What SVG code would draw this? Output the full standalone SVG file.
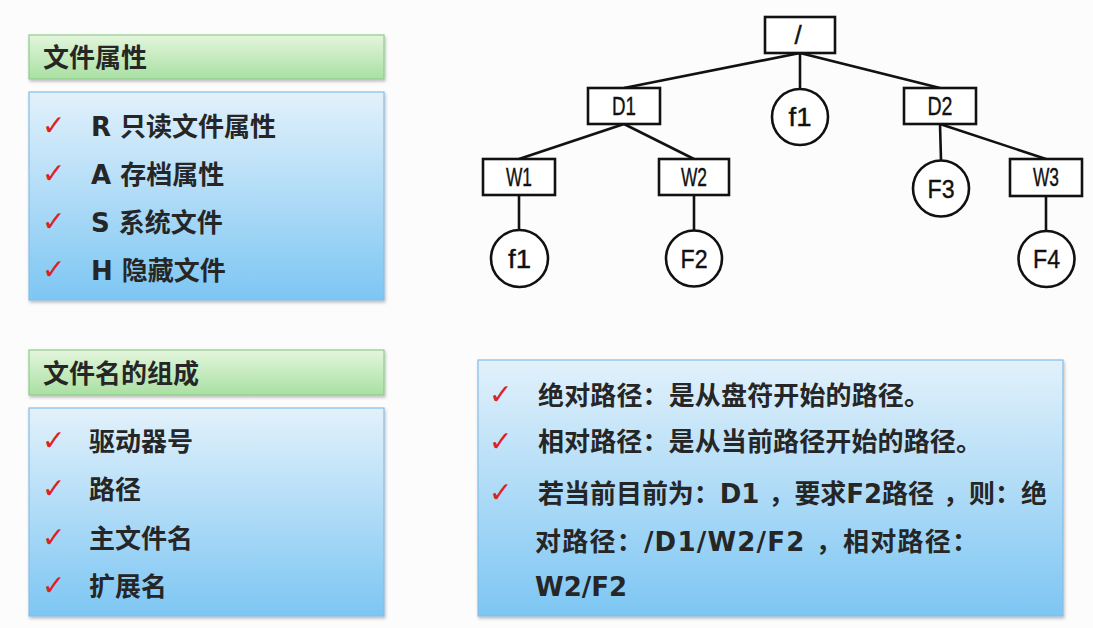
<svg xmlns="http://www.w3.org/2000/svg" width="1093" height="628" viewBox="0 0 1093 628">
<defs>
<linearGradient id="gGreen" x1="0" y1="0" x2="0" y2="1">
<stop offset="0" stop-color="#e3f6dc"/>
<stop offset="1" stop-color="#a9e0a2"/>
</linearGradient>
<linearGradient id="gBlue" x1="0" y1="0" x2="0" y2="1">
<stop offset="0" stop-color="#e2f1fb"/>
<stop offset="1" stop-color="#7dc6f3"/>
</linearGradient>
<filter id="sh" x="-5%" y="-5%" width="110%" height="115%">
<feDropShadow dx="1" dy="2" stdDeviation="1.5" flood-color="#000" flood-opacity="0.25"/>
</filter>
</defs>
<style>
.hdr{fill:url(#gGreen);stroke:#8fcc8a;stroke-width:1.2;filter:url(#sh)}
.body{fill:url(#gBlue);stroke:#86bde6;stroke-width:1.2;filter:url(#sh)}
.t{font-family:"DejaVu Sans","Noto Sans CJK SC",sans-serif;font-weight:bold;font-size:26px;fill:#262626}
.ck{font-family:"DejaVu Sans",sans-serif;font-size:28px;fill:#dc2222}
.box{fill:#fff;stroke:#111;stroke-width:2.6}
.lbl{font-family:"Liberation Sans",sans-serif;font-size:26px;fill:#111;stroke:#111;stroke-width:0.4;text-anchor:middle}
.edge{stroke:#111;stroke-width:2.6;fill:none}
</style>
<rect width="1093" height="628" fill="#fcfcfc"/>

<g id="attr-header">
<rect class="hdr" x="29" y="35" width="355" height="44"/>
<text class="t" x="43" y="67">文件属性</text>
</g>
<g id="attr-list">
<rect class="body" x="29" y="92" width="355" height="208"/>
<text class="ck" x="42" y="135">✓</text>
<text class="t" x="91" y="136">R 只读文件属性</text>
<text class="ck" x="42" y="183">✓</text>
<text class="t" x="91" y="184">A 存档属性</text>
<text class="ck" x="42" y="231">✓</text>
<text class="t" x="91" y="232">S 系统文件</text>
<text class="ck" x="42" y="279">✓</text>
<text class="t" x="91" y="280">H 隐藏文件</text>
</g>

<g id="name-header">
<rect class="hdr" x="29" y="350" width="355" height="45"/>
<text class="t" x="43" y="383">文件名的组成</text>
</g>
<g id="name-list">
<rect class="body" x="29" y="408" width="355" height="208"/>
<text class="ck" x="42" y="450">✓</text>
<text class="t" x="89" y="451">驱动器号</text>
<text class="ck" x="42" y="498">✓</text>
<text class="t" x="89" y="499">路径</text>
<text class="ck" x="42" y="547">✓</text>
<text class="t" x="89" y="548">主文件名</text>
<text class="ck" x="42" y="595">✓</text>
<text class="t" x="89" y="596">扩展名</text>
</g>

<g id="path-notes">
<rect class="body" x="478" y="360" width="585" height="256"/>
<text class="ck" x="489" y="404">✓</text>
<text class="t" x="538" y="405" textLength="392" lengthAdjust="spacing">绝对路径：是从盘符开始的路径。</text>
<text class="ck" x="489" y="451">✓</text>
<text class="t" x="538" y="451" textLength="444" lengthAdjust="spacing">相对路径：是从当前路径开始的路径。</text>
<text class="ck" x="489" y="502">✓</text>
<text class="t" x="538" y="503" textLength="509" lengthAdjust="spacing">若当前目前为：D1 ，要求F2路径 ，则：绝</text>
<text class="t" x="535" y="551" textLength="443" lengthAdjust="spacing">对路径：/D1/W2/F2 ，相对路径：</text>
<text class="t" x="535" y="596">W2/F2</text>
</g>

<g id="connectors">
<line class="edge" x1="800" y1="53" x2="624" y2="88"/>
<line class="edge" x1="800" y1="53" x2="800" y2="88"/>
<line class="edge" x1="800" y1="53" x2="940" y2="88"/>
<line class="edge" x1="624" y1="124" x2="519" y2="159"/>
<line class="edge" x1="624" y1="124" x2="694" y2="159"/>
<line class="edge" x1="940" y1="124" x2="941" y2="160"/>
<line class="edge" x1="940" y1="124" x2="1046" y2="159"/>
<line class="edge" x1="519" y1="195" x2="519" y2="230"/>
<line class="edge" x1="694" y1="195" x2="694" y2="230"/>
<line class="edge" x1="1046" y1="196" x2="1046" y2="231"/>
</g>

<g id="root">
<rect class="box" x="765" y="17" width="70" height="36"/>
<text class="lbl" x="798" y="44">/</text>
</g>
<g id="D1">
<rect class="box" x="588" y="88" width="72" height="36"/>
<text class="lbl" x="624" y="115" textLength="24" lengthAdjust="spacingAndGlyphs">D1</text>
</g>
<g id="f1-top">
<circle class="box" cx="800" cy="117" r="28"/>
<text class="lbl" x="800" y="126" textLength="23" lengthAdjust="spacingAndGlyphs">f1</text>
</g>
<g id="D2">
<rect class="box" x="904" y="88" width="72" height="36"/>
<text class="lbl" x="940" y="115" textLength="25" lengthAdjust="spacingAndGlyphs">D2</text>
</g>
<g id="W1">
<rect class="box" x="483" y="159" width="72" height="36"/>
<text class="lbl" x="519" y="186" textLength="26" lengthAdjust="spacingAndGlyphs">W1</text>
</g>
<g id="W2">
<rect class="box" x="659" y="159" width="70" height="36"/>
<text class="lbl" x="694" y="186" textLength="26" lengthAdjust="spacingAndGlyphs">W2</text>
</g>
<g id="F3">
<circle class="box" cx="941" cy="188.5" r="28"/>
<text class="lbl" x="941" y="197.5" textLength="27" lengthAdjust="spacingAndGlyphs">F3</text>
</g>
<g id="W3">
<rect class="box" x="1010" y="159" width="72" height="37"/>
<text class="lbl" x="1046" y="186" textLength="26" lengthAdjust="spacingAndGlyphs">W3</text>
</g>
<g id="f1-bottom">
<circle class="box" cx="519.5" cy="258.5" r="28.5"/>
<text class="lbl" x="519.5" y="267.5" textLength="23" lengthAdjust="spacingAndGlyphs">f1</text>
</g>
<g id="F2">
<circle class="box" cx="694" cy="258.5" r="28"/>
<text class="lbl" x="694" y="267.5" textLength="27" lengthAdjust="spacingAndGlyphs">F2</text>
</g>
<g id="F4">
<circle class="box" cx="1046.5" cy="259" r="28"/>
<text class="lbl" x="1046.5" y="268" textLength="27" lengthAdjust="spacingAndGlyphs">F4</text>
</g>
</svg>
